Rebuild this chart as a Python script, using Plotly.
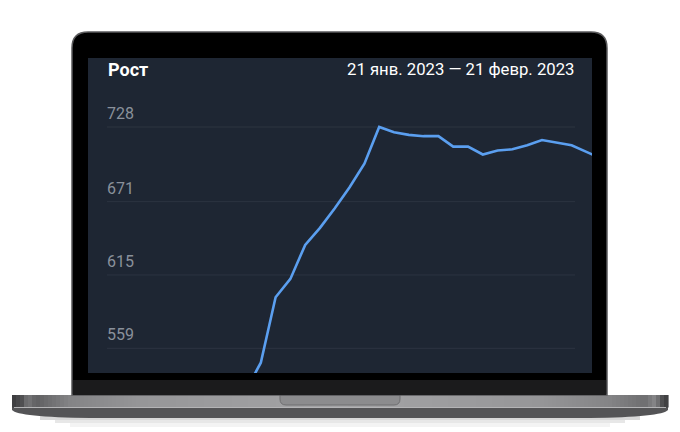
import plotly.graph_objects as go
import pandas as pd

W, H = 680, 432

# ---- data ----
dates = pd.date_range("2023-01-28", "2023-02-21", freq="D")
values = [527, 548, 598, 612, 638, 651, 666, 682, 700, 728,
          724, 722, 721, 721, 713, 713, 707, 710, 711, 714,
          718, 716, 714, 709, 704]
tick_vals = [559, 615, 671, 728]
tick_text = ["559", "615", "671", "728"]
title_text = "Рост"
period_text = "21 янв. 2023 — 21 февр. 2023"

# ---- geometry helpers (pixel -> paper) ----
def fx(x):
    return x / W

def fy(y):
    return 1 - y / H

def P(x, y):
    return f"{fx(x):.5f},{fy(y):.5f}"

SCR_L, SCR_R, SCR_T, SCR_B = 88, 592, 58, 373

# x range from pixel mapping (14.8 px per day, Jan 28 at x=246)
px_per_day = 14.8
base_day = dates[0]
x0 = base_day + pd.Timedelta(days=(SCR_L - 246) / px_per_day)
x1 = base_day + pd.Timedelta(days=(SCR_R - 246) / px_per_day)

# y range: 728 at y=127, 1.3095 px per unit
ppu = 1.3095
y_lo = 728 - (SCR_B - 127) / ppu
y_hi = 728 + (127 - SCR_T) / ppu

fig = go.Figure()
fig.add_trace(go.Scatter(
    x=dates, y=values, mode="lines",
    line=dict(color="#5b9ff0", width=2.6),
    hoverinfo="skip", showlegend=False,
))

shapes = []

def rect(x0_, y0_, x1_, y1_, color, line=None):
    d = dict(type="rect", xref="paper", yref="paper",
             x0=fx(x0_), x1=fx(x1_), y0=fy(y1_), y1=fy(y0_),
             fillcolor=color, layer="below", line=dict(width=0))
    if line:
        d["line"] = line
    shapes.append(d)

def path(p, color, line=None):
    d = dict(type="path", xref="paper", yref="paper", path=p,
             fillcolor=color, layer="below", line=dict(width=0))
    if line:
        d["line"] = line
    shapes.append(d)

# soft shadow under the base
rect(40, 416, 640, 420, "#d8d8d8")
rect(55, 420, 625, 423, "#e7e7e7")
rect(70, 423, 610, 427, "#f3f3f3")

# base lower lip
path(f"M {P(12,407)} L {P(668,407)} L {P(668,410)} Q {P(662,417)} {P(590,418)} "
     f"L {P(90,418)} Q {P(18,417)} {P(12,410)} Z", "#545456")

# base upper band with horizontal gradient
stops = [(12, (58, 58, 60)), (22, (80, 80, 82)), (28, (120, 120, 122)),
         (36, (96, 96, 98)), (70, (132, 132, 134)), (140, (150, 150, 152)),
         (340, (164, 164, 166)), (540, (150, 150, 152)), (610, (132, 132, 134)),
         (645, (110, 110, 112)), (655, (135, 135, 137)), (662, (80, 80, 82)),
         (668, (58, 58, 60))]

def col_at(x):
    for (xa, ca), (xb, cb) in zip(stops[:-1], stops[1:]):
        if xa <= x <= xb:
            t = (x - xa) / (xb - xa) if xb > xa else 0
            c = [round(a + (b - a) * t) for a, b in zip(ca, cb)]
            return f"rgb({c[0]},{c[1]},{c[2]})"
    return "rgb(58,58,60)"

step = 4
x = 12
while x < 668:
    xe = min(x + step, 668)
    rect(x, 395, xe + 0.6, 407.5, col_at((x + xe) / 2))
    x = xe
# thin highlight line between band and lip
rect(14, 407, 666, 408, "#b4b4b6")

# notch
path(f"M {P(280,395)} L {P(400,395)} L {P(400,399)} Q {P(400,405)} {P(394,405)} "
     f"L {P(286,405)} Q {P(280,405)} {P(280,399)} Z", "#8c8c8e",
     line=dict(color="#6f6f71", width=1))

# bezel
path(f"M {P(72,395)} L {P(72,48)} Q {P(72,32)} {P(88,32)} L {P(591,32)} "
     f"Q {P(607,32)} {P(607,48)} L {P(607,395)} Z", "#000000",
     line=dict(color="#5a5a5c", width=1.5))
# chin
rect(73, 380, 606, 395, "#1b1b1c")
# screen
rect(SCR_L, SCR_T, SCR_R, SCR_B, "#1e2633")

# gridlines through the y scale
for v in tick_vals:
    shapes.append(dict(type="line", xref="paper", yref="y",
                       x0=fx(107), x1=fx(575), y0=v, y1=v,
                       line=dict(color="#2c3441", width=1), layer="below"))

annotations = []
for v, t in zip(tick_vals, tick_text):
    annotations.append(dict(
        x=fx(105), xref="paper", y=v, yref="y", text=t, showarrow=False,
        xanchor="left", yanchor="middle", yshift=13.5,
        font=dict(family="Roboto", size=16, color="#8a919b")))

annotations.append(dict(
    x=fx(105.5), xref="paper", y=fy(69), yref="paper", text=title_text,
    showarrow=False, xanchor="left", yanchor="middle",
    font=dict(family="Roboto", size=18, color="#ffffff", weight="bold")))
annotations.append(dict(
    x=fx(576), xref="paper", y=fy(69), yref="paper", text=period_text,
    showarrow=False, xanchor="right", yanchor="middle",
    font=dict(family="Roboto", size=16.7, color="#ffffff")))

fig.update_layout(
    width=W, height=H,
    margin=dict(l=0, r=0, t=0, b=0),
    paper_bgcolor="#ffffff",
    plot_bgcolor="rgba(0,0,0,0)",
    shapes=shapes,
    annotations=annotations,
    xaxis=dict(domain=[fx(SCR_L), fx(SCR_R)], range=[x0, x1],
               visible=False, showgrid=False, fixedrange=True),
    yaxis=dict(domain=[fy(SCR_B), fy(SCR_T)], range=[y_lo, y_hi],
               visible=False, showgrid=False, fixedrange=True),
)

fig.write_html("out.html",
               config={"displayModeBar": False, "staticPlot": True},
               post_script="document.body.style.margin='0';document.body.style.overflow='hidden';")
